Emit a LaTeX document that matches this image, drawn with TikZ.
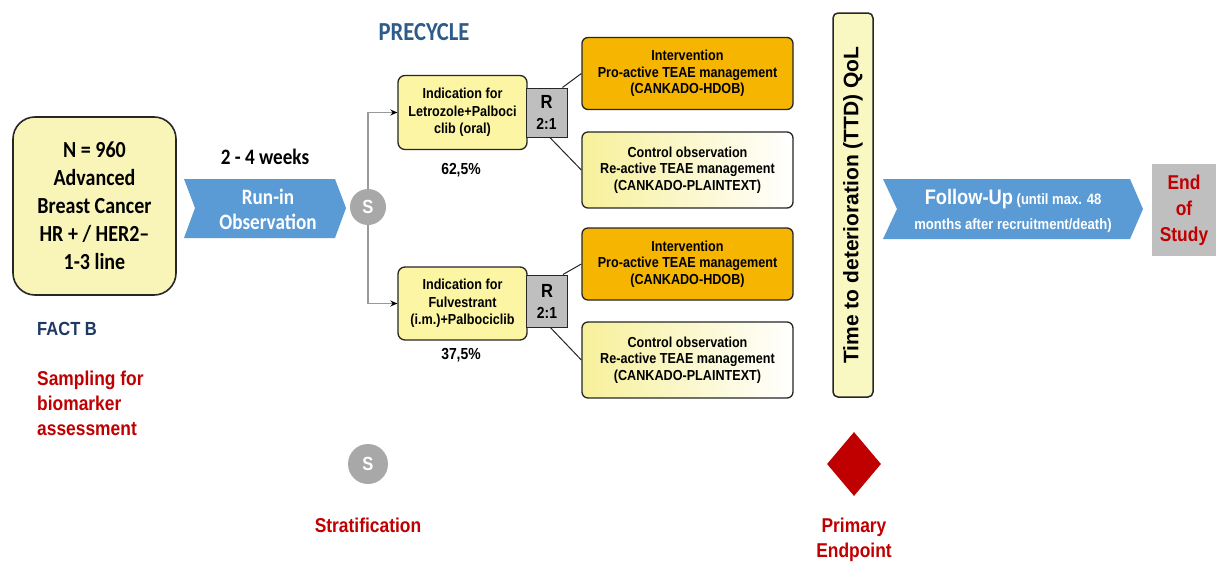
\documentclass[tikz,border=0pt]{standalone}
\usepackage{fontspec}
\setmainfont{Liberation Sans}
\newfontfamily\ari[FakeStretch=0.87]{Liberation Sans}
\newfontfamily\arr{Liberation Sans}
\newfontfamily\carfont[FakeStretch=0.87]{Carlito}
\usetikzlibrary{shapes.geometric,arrows.meta,calc}
\newcommand\myfs[2]{\fontsize{#1}{#2}\selectfont}
\definecolor{leftyel}{HTML}{F9F5B8}
\definecolor{indyel}{HTML}{FCF6A4}
\definecolor{ctrlyel}{HTML}{F7F09A}
\definecolor{intor}{HTML}{F5B500}
\definecolor{chevblue}{HTML}{5B9BD5}
\definecolor{circgray}{HTML}{A8A8A8}
\definecolor{boxgray}{HTML}{BFBFBF}
\definecolor{redtxt}{HTML}{C00000}
\definecolor{precol}{HTML}{2E5C8A}
\definecolor{factcol}{HTML}{1F3864}
\definecolor{ttdyel}{HTML}{FAF8C2}
\definecolor{edge}{HTML}{262626}
\begin{document}
\begin{tikzpicture}[x=1pt,y=-1pt,
  leftbox/.style={draw=edge, line width=1.6pt, fill=leftyel, rounded corners=22pt,
    minimum width=163pt, minimum height=178pt, align=center, inner sep=0pt,
    font=\carfont\bfseries\myfs{23}{28}},
  indbox/.style={draw=edge, line width=1.3pt, fill=indyel, rounded corners=7pt,
    minimum width=129pt, minimum height=74pt, align=center, inner sep=0pt,
    font=\ari\bfseries\myfs{14.5}{17.5}},
  rbox/.style={draw=edge, line width=1pt, fill=boxgray, minimum width=41pt,
    align=center, inner sep=0pt, font=\ari\bfseries\myfs{19}{21}},
  intbox/.style={draw=edge, line width=1.3pt, fill=intor, rounded corners=6pt,
    minimum width=211pt, minimum height=72pt, align=center, inner sep=0pt,
    font=\ari\bfseries\myfs{14.5}{16.5}},
  ctrlbox/.style={draw=edge, line width=1.3pt, left color=ctrlyel, right color=white,
    rounded corners=6pt, minimum width=211pt, minimum height=76pt, align=center,
    inner sep=0pt, font=\ari\bfseries\myfs{14.5}{16.5}},
  pct/.style={font=\ari\bfseries\myfs{16}{18}, inner sep=0pt},
  chev/.style={fill=chevblue},
  chevtext/.style={text=white, align=center, inner sep=0pt},
  scirc/.style={circle, fill=circgray, text=white, inner sep=0pt,
    font=\ari\bfseries\myfs{19}{20}},
  redlabel/.style={text=redtxt, font=\ari\bfseries\myfs{20}{25}, inner sep=0pt},
  gline/.style={draw=black!40, line width=1.2pt, -{Stealth[length=7pt,width=6pt,black]}},
  rline/.style={draw=edge, line width=1pt},
]
\useasboundingbox (0,0) rectangle (1216,562);
\fill[white] (0,0) rectangle (1216,562);

% population box
\node[leftbox] (pop) at (94.5,206) {N = 960\\Advanced\\Breast Cancer\\HR + / HER2–\\1-3 line};
\node[font=\carfont\bfseries\myfs{22}{26}, inner sep=0pt] (weeks) at (265,157) {2 - 4 weeks};

% run-in chevron
\fill[chev] (184,179) -- (335,179) -- (346,208) -- (335,238) -- (184,238) -- (195,208) -- cycle;
\node[chevtext, font=\carfont\bfseries\myfs{22}{25}] (runin) at (268,209) {Run-in\\Observation};

% stratification circle
\node[scirc, minimum size=36pt] (s1) at (368,207) {S};

\node[text=precol, font=\carfont\bfseries\myfs{26}{28}, inner sep=0pt] (pre) at (424,32) {PRECYCLE};

% upper arm
\node[indbox] (ind1) at (462.5,112.5) {Indication for\\Letrozole+Palboci\\clib (oral)};
\node[pct] (p1) at (461,170) {62,5\%};
\node[intbox] (int1) at (687.5,73.5) {Intervention\\Pro-active TEAE management\\(CANKADO-HDOB)};
\node[ctrlbox] (ctrl1) at (687.5,170) {Control observation\\Re-active TEAE management\\(CANKADO-PLAINTEXT)};
\node[rbox, minimum height=49pt] (r1) at (546.5,112.5) {R\\{\myfs{16}{19}2:1}};
\draw[rline] ($(r1.north west)!0.88!(r1.north east)$) -- (int1.west);
\draw[rline] ($(r1.south west)!0.58!(r1.south east)$) -- (ctrl1.west);

% lower arm
\node[indbox, minimum height=73pt] (ind2) at (462.5,303.5) {Indication for\\Fulvestrant\\(i.m.)+Palbociclib};
\node[pct] (p2) at (461,355) {37,5\%};
\node[intbox] (int2) at (687.5,264) {Intervention\\Pro-active TEAE management\\(CANKADO-HDOB)};
\node[ctrlbox] (ctrl2) at (687.5,360) {Control observation\\Re-active TEAE management\\(CANKADO-PLAINTEXT)};
\node[rbox, minimum height=52pt] (r2) at (547,301) {R\\{\myfs{16}{19}2:1}};
\draw[rline] ($(r2.north west)!0.88!(r2.north east)$) -- (int2.west);
\draw[rline] ($(r2.south west)!0.58!(r2.south east)$) -- (ctrl2.west);

% connectors from S
\draw[gline] (s1.north) |- (ind1.west);
\draw[gline] (s1.south) |- (ind2.west);

% TTD bar
\node[draw=edge, line width=1.5pt, fill=ttdyel, rounded corners=5pt, rotate=90,
  minimum width=384pt, minimum height=40pt, inner sep=0pt,
  font=\arr\bfseries\myfs{21}{24}] (ttd) at (853,205) {Time to deterioration (TTD) QoL};

% follow-up chevron
\fill[chev] (883,179) -- (1130,179) -- (1143,209) -- (1130,239) -- (883,239) -- (897,209) -- cycle;
\node[chevtext, font=\ari\bfseries\myfs{15}{25}] (fu) at (1013,211) {{\myfs{21}{25}Follow-Up} (until max. 48\\months after recruitment/death)};

% end of study
\node[fill=boxgray, minimum width=64pt, minimum height=92pt, align=center, inner sep=0pt,
  text=redtxt, font=\ari\bfseries\myfs{20}{26}] (end) at (1184,210) {End\\of\\Study};

% left labels
\node[text=factcol, font=\ari\bfseries\myfs{19}{22}, anchor=west, inner sep=0pt] (fact) at (37,329) {FACT B};
\node[redlabel, anchor=west, align=left] (samp) at (37,403) {Sampling for\\biomarker\\assessment};

% legend
\node[scirc, minimum size=40pt] (s2) at (368,464) {S};
\node[redlabel] (strat) at (368,525) {Stratification};
\node[diamond, fill=redtxt, minimum width=54pt, minimum height=64pt, inner sep=0pt] (dia) at (854,464) {};
\node[redlabel, align=center] (prim) at (854,540) {Primary\\Endpoint};
\end{tikzpicture}
\end{document}
